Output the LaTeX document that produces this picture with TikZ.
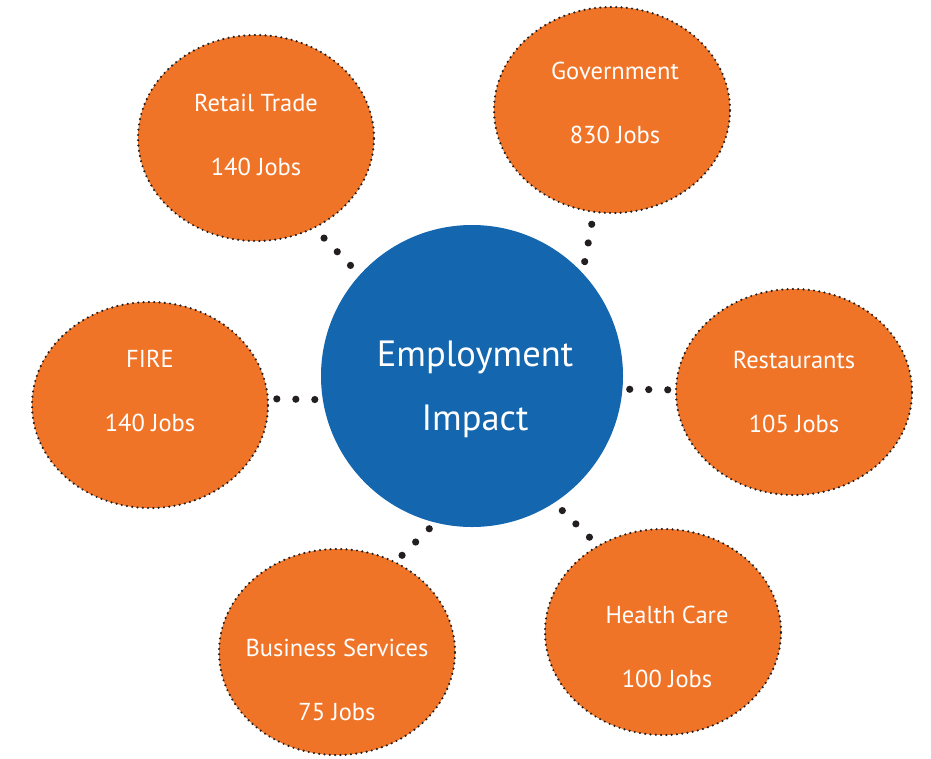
\documentclass[tikz,border=0pt]{standalone}
\usepackage{fontspec}
\setmainfont{PT Sans}
\usepackage{tikz}
\usetikzlibrary{shapes.geometric,decorations.markings}
\definecolor{sectorfill}{HTML}{F07427}
\definecolor{hubfill}{HTML}{1467AE}
\definecolor{dotcol}{HTML}{231F20}
\tikzset{
hub/.style = {circle, fill=hubfill, minimum size=302pt, inner sep=0pt},
hubtext/.style = {text=white, align=center, font=\fontsize{36.5}{64}\selectfont},
sector/.style = {ellipse, fill=sectorfill, draw=dotcol, line width=2.4pt,
  dash pattern=on 0pt off 5.3pt, line cap=round,
  minimum width=236pt, minimum height=206pt, inner sep=0pt},
jobs/.style = {text=white, align=center, font=\fontsize{24.5}{64}\selectfont},
link/.style = {postaction={decorate}, decoration={markings,
  mark=at position 0.5 with {\fill[dotcol] (-19pt,0pt) circle (3.6pt)
    (0pt,0pt) circle (3.6pt) (19pt,0pt) circle (3.6pt);}}}
}
\begin{document}
\begin{tikzpicture}[x=1pt, y=-1pt]
\useasboundingbox (0,0) rectangle (931,758);
% centre circle
\node [hub, label={[hubtext, xshift=3pt, yshift=-13pt]center:Employment\\Impact}] (impact) at (472,376) {};
% sectors
\node [sector, label={[jobs, yshift=3pt]center:Retail Trade\\140 Jobs}] (retail) at (256,138) {};
\node [sector, label={[jobs, xshift=3pt, yshift=7pt]center:Government\\830 Jobs}] (govt) at (612,110) {};
\node [sector, label={[jobs, yshift=14pt]center:FIRE\\140 Jobs}] (fire) at (150,405) {};
\node [sector, label={[jobs]center:Restaurants\\105 Jobs}] (rest) at (794,392) {};
\node [sector, label={[jobs, xshift=4pt, yshift=-15pt]center:Health Care\\100 Jobs}] (health) at (663,632) {};
\node [sector, label={[jobs, yshift=-28pt]center:Business Services\\75 Jobs}] (business) at (337,652) {};
% dotted links
\path [link] (impact.138) -- (retail.-57);
\path [link] (impact.43) -- (govt.-100);
\path [link] (impact.189) -- (fire.3);
\path [link] (impact.-5) -- (rest.179);
\path [link] (impact.-57) -- (health.127);
\path [link] (impact.-104) -- (business.57);
\end{tikzpicture}
\end{document}
